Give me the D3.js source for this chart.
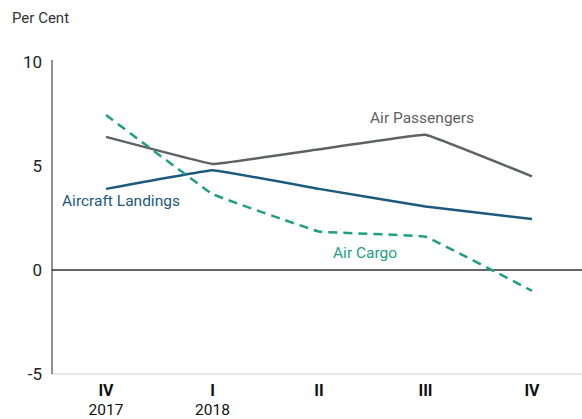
<!DOCTYPE html>
<html>
<head>
<meta charset="utf-8">
<script src="https://cdn.jsdelivr.net/npm/d3@7"></script>
<style>
  body { margin: 0; background: #fff; }
  svg { display: block; font-family: Roboto, "DejaVu Sans", sans-serif; }
</style>
</head>
<body>
<svg id="chart" width="582" height="419"></svg>
<script>
const quarters = ['IV', 'I', 'II', 'III', 'IV ']
const years = ['2017', '2018', '', '', '']
const yTicks = [-5, 0, 5, 10]

const airPassengers = [6.4, 5.1, 5.8, 6.5, 4.5]
const aircraftLandings = [3.9, 4.8, 3.9, 3.05, 2.45]
const airCargo = [7.45, 3.65, 1.85, 1.6, -1.0]

const series = [
  { name: 'Air Passengers', values: airPassengers, color: '#5f6164', dash: null, label: [370, 123] },
  { name: 'Aircraft Landings', values: aircraftLandings, color: '#1c5a7d', dash: null, label: [62, 206] },
  { name: 'Air Cargo', values: airCargo, color: '#1f9e86', dash: '9,6', label: [333, 258] }
]

const svg = d3.select('#chart')
const margin = { top: 62, right: 0, bottom: 45, left: 52 }
const width = +svg.attr('width')

const x = d3.scalePoint()
  .domain(quarters)
  .range([106, 532])

const y = d3.scaleLinear()
  .domain([-5, 10])
  .range([374, 62])

// per cent label
svg.append('text')
  .attr('x', 12)
  .attr('y', 23)
  .attr('font-size', 15)
  .attr('fill', '#333')
  .text('Per Cent')

// bottom axis (light line)
svg.append('line')
  .attr('x1', margin.left).attr('x2', width)
  .attr('y1', y(-5)).attr('y2', y(-5))
  .attr('stroke', '#dedede')
  .attr('stroke-width', 1.5)

// y axis line
svg.append('line')
  .attr('x1', margin.left).attr('x2', margin.left)
  .attr('y1', y(10) - 2).attr('y2', y(-5))
  .attr('stroke', '#222')
  .attr('stroke-width', 1)

// zero line
svg.append('line')
  .attr('x1', margin.left).attr('x2', width)
  .attr('y1', y(0)).attr('y2', y(0))
  .attr('stroke', '#333')
  .attr('stroke-width', 1.3)

svg.append('g')
  .selectAll('text')
  .data(yTicks)
  .enter()
  .append('text')
  .attr('x', 42)
  .attr('y', d => y(d))
  .attr('dy', '0.35em')
  .attr('text-anchor', 'end')
  .attr('font-size', 17)
  .attr('fill', '#222')
  .text(d => d)

const xLabels = svg.append('g')
quarters.forEach((q, i) => {
  xLabels.append('text')
    .attr('x', x(q))
    .attr('y', 396)
    .attr('text-anchor', 'middle')
    .attr('font-size', 16)
    .attr('font-weight', 'bold')
    .attr('fill', '#111')
    .text(q.trim())
  if (years[i]) {
    xLabels.append('text')
      .attr('x', x(q))
      .attr('y', 415)
      .attr('text-anchor', 'middle')
      .attr('font-size', 15.5)
      .attr('fill', '#111')
      .text(years[i])
  }
})

const line = d3.line()
  .x((d, i) => x(quarters[i]))
  .y(d => y(d))
  .curve(d3.curveCardinal.tension(0.85))

series.forEach(s => {
  svg.append('path')
    .datum(s.values)
    .attr('d', line)
    .attr('fill', 'none')
    .attr('stroke', s.color)
    .attr('stroke-width', 2.5)
    .attr('stroke-dasharray', s.dash)

  svg.append('text')
    .attr('x', s.label[0])
    .attr('y', s.label[1])
    .attr('font-size', 15.5)
    .attr('fill', s.color)
    .text(s.name)
})
</script>
</body>
</html>
